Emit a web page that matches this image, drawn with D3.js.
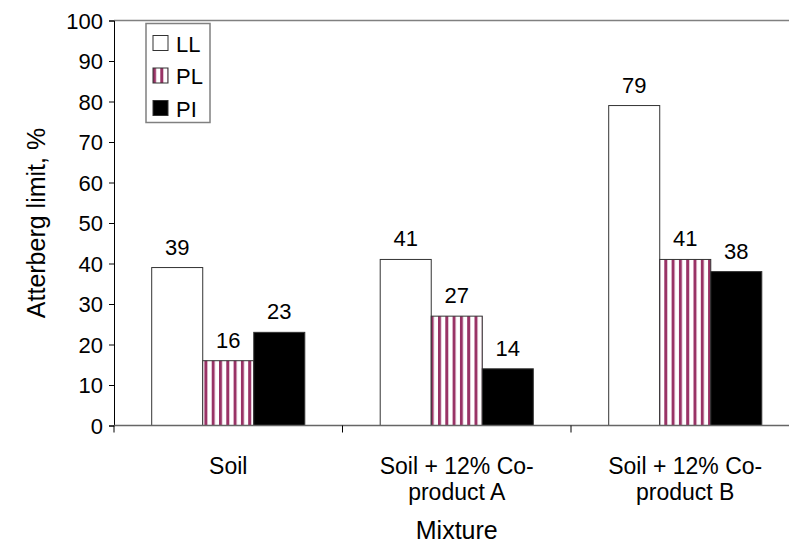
<html lang="en">
<head>
    <meta charset="UTF-8">
    <script src="https://cdn.jsdelivr.net/npm/d3@7"></script>
    <title>Atterberg limits</title>
    <style>
        body { margin: 0; background: #fff; }
        text { font-family: "Liberation Sans", Arial, sans-serif; fill: #000; }
    </style>
</head>
<body>
<script>
    // data
    var mixtures = [["Soil"], ["Soil + 12% Co-", "product A"], ["Soil + 12% Co-", "product B"]];
    var series = ["LL", "PL", "PI"];
    var LL = [39, 41, 79];
    var PL = [16, 27, 41];
    var PI = [23, 14, 38];
    var yTicks = [0, 10, 20, 30, 40, 50, 60, 70, 80, 90, 100];

    var w = 789, h = 544;
    var plotLeft = 114, plotTop = 20.5, plotBottom = 425.5;
    var band = 228.5;

    var svg = d3.select("body").append("svg")
        .attr("width", w).attr("height", h);

    var defs = svg.append("defs");
    var pat = defs.append("pattern")
        .attr("id", "stripes")
        .attr("patternUnits", "userSpaceOnUse")
        .attr("width", 7.3).attr("height", 10);
    pat.append("rect").attr("width", 7.3).attr("height", 10).attr("fill", "#fff");
    pat.append("rect").attr("x", 0).attr("width", 3).attr("height", 10).attr("fill", "#993366");

    var fills = { LL: "#fff", PL: "url(#stripes)", PI: "#000" };
    var values = { LL: LL, PL: PL, PI: PI };

    var x0 = d3.scaleBand()
        .domain(d3.range(mixtures.length))
        .range([plotLeft, plotLeft + band * mixtures.length])
        .paddingInner(0.33).paddingOuter(0.165);

    var x1 = d3.scaleBand()
        .domain(series)
        .range([0, x0.bandwidth()]);

    var y = d3.scaleLinear()
        .domain([0, 100])
        .range([plotBottom, plotTop]);

    // top border
    svg.append("line")
        .attr("x1", plotLeft).attr("x2", w)
        .attr("y1", plotTop).attr("y2", plotTop)
        .attr("stroke", "#808080").attr("stroke-width", 1.5);

    // bars
    var rows = [];
    mixtures.forEach(function (m, i) {
        series.forEach(function (s) {
            rows.push({ i: i, s: s, v: values[s][i] });
        });
    });

    svg.selectAll("rect.bar")
        .data(rows)
        .enter()
        .append("rect")
        .attr("class", "bar")
        .attr("x", function (d) { return x0(d.i) + x1(d.s); })
        .attr("y", function (d) { return y(d.v); })
        .attr("width", x1.bandwidth())
        .attr("height", function (d) { return plotBottom - y(d.v); })
        .attr("fill", function (d) { return fills[d.s]; })
        .attr("stroke", "#333")
        .attr("stroke-width", 1);

    svg.selectAll("text.val")
        .data(rows)
        .enter()
        .append("text")
        .attr("class", "val")
        .attr("x", function (d) { return x0(d.i) + x1(d.s) + x1.bandwidth() / 2; })
        .attr("y", function (d) { return y(d.v) - 13; })
        .attr("text-anchor", "middle")
        .attr("font-size", "22px")
        .text(function (d) { return d.v; });

    // y axis
    var yAxis = svg.append("g")
        .attr("transform", "translate(" + plotLeft + ",0)")
        .call(d3.axisLeft(y).tickValues(yTicks).tickSize(5).tickPadding(6));
    yAxis.selectAll("text")
        .attr("font-size", "22px")
        .attr("dy", "0.36em")
        .style("font-family", "Liberation Sans, Arial, sans-serif");
    yAxis.selectAll("line, path").attr("stroke", "#000");

    // x axis
    svg.append("line")
        .attr("x1", plotLeft).attr("x2", w)
        .attr("y1", plotBottom).attr("y2", plotBottom)
        .attr("stroke", "#666").attr("stroke-width", 1.5);

    svg.selectAll("line.xtick")
        .data(d3.range(mixtures.length + 1))
        .enter()
        .append("line")
        .attr("class", "xtick")
        .attr("x1", function (d) { return plotLeft + band * d; })
        .attr("x2", function (d) { return plotLeft + band * d; })
        .attr("y1", plotBottom).attr("y2", plotBottom + 7)
        .attr("stroke", "#000");

    var cat = svg.selectAll("text.cat")
        .data(mixtures)
        .enter()
        .append("text")
        .attr("class", "cat")
        .attr("text-anchor", "middle")
        .attr("font-size", "23px")
        .attr("x", function (d, i) { return x0(i) + x0.bandwidth() / 2; })
        .attr("y", 474);
    cat.selectAll("tspan")
        .data(function (d) { return d; })
        .enter()
        .append("tspan")
        .attr("x", function () { return d3.select(this.parentNode).attr("x"); })
        .attr("dy", function (d, j) { return j === 0 ? 0 : 26; })
        .text(function (d) { return d; });

    // axis titles
    svg.append("text")
        .attr("x", x0(1) + x0.bandwidth() / 2)
        .attr("y", 539)
        .attr("text-anchor", "middle")
        .attr("font-size", "25px")
        .text("Mixture");

    svg.append("text")
        .attr("transform", "translate(45," + (plotTop + plotBottom) / 2 + ") rotate(-90)")
        .attr("text-anchor", "middle")
        .attr("font-size", "25px")
        .text("Atterberg limit, %");

    // legend
    var lg = svg.append("g").attr("transform", "translate(146,23.5)");
    lg.append("rect")
        .attr("width", 64).attr("height", 99)
        .attr("fill", "#fff").attr("stroke", "#808080").attr("stroke-width", 1.5);
    var items = lg.selectAll("g.item")
        .data(series)
        .enter()
        .append("g")
        .attr("transform", function (d, i) { return "translate(7," + (12 + i * 32.5) + ")"; });
    items.append("rect")
        .attr("width", 15).attr("height", 15)
        .attr("fill", function (d) { return fills[d]; })
        .attr("stroke", "#333");
    items.append("text")
        .attr("x", 23).attr("y", 16)
        .attr("font-size", "22px")
        .text(function (d) { return d; });
</script>
</body>
</html>
